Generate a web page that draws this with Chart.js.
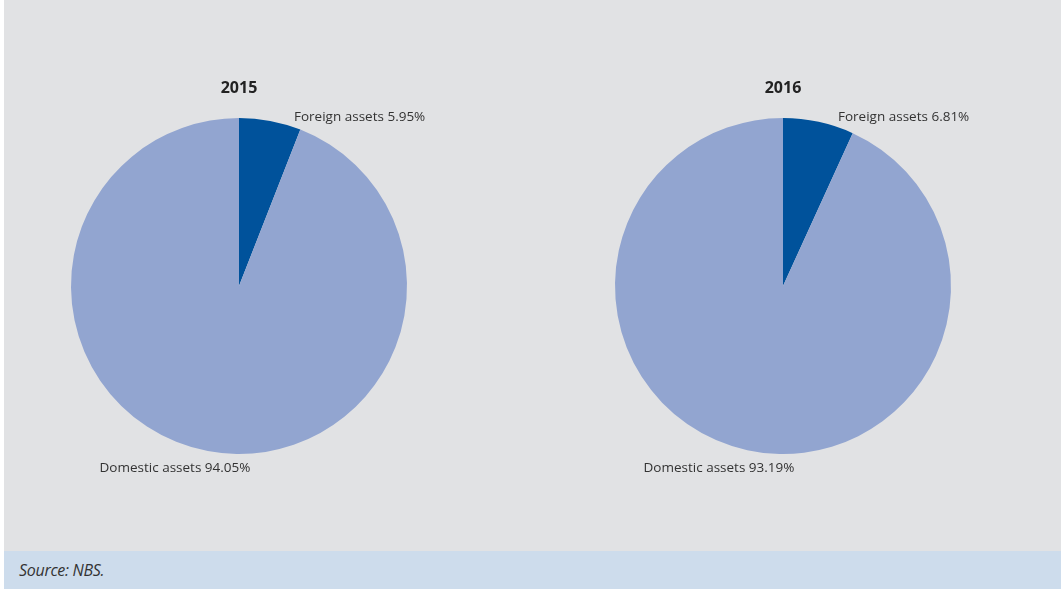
<!DOCTYPE html>
<html>
<head>
<meta charset="utf-8">
<script src="https://cdn.jsdelivr.net/npm/chart.js@4.4.1/dist/chart.umd.min.js"></script>
<style>
  html, body { margin: 0; padding: 0; background: #ffffff; }
  #wrap { position: relative; width: 1061px; height: 589px; overflow: hidden; }
  #panel { position: absolute; left: 4px; top: 0; width: 1057px; height: 551px; background: #e1e2e4; }
  #source { position: absolute; left: 4px; top: 551px; width: 1057px; height: 38px; background: #cddcec;
    font-family: "Open Sans", "Noto Sans", sans-serif; font-style: italic; font-size: 16px; color: #333;
    line-height: 38px; text-indent: 15px; letter-spacing: -0.3px; }
  canvas { position: absolute; top: 0; }
</style>
</head>
<body>
<div id="wrap">
  <div id="panel">
    <canvas id="pie2015" style="left:0px"></canvas>
    <canvas id="pie2016" style="left:530px"></canvas>
  </div>
  <div id="source">Source: NBS.</div>
</div>
<script>
const categories = ["Foreign assets", "Domestic assets"];
const years = ["2015", "2016"];
const values2015 = [5.95, 94.05];
const values2016 = [6.81, 93.19];

const colors = ["#00529b", "#92a5d0"];
const labelFont = '13.5px "Open Sans", "Noto Sans", sans-serif';

const pieLabels = {
  id: "pieLabels",
  afterDraw(chart) {
    const ctx = chart.ctx;
    const meta = chart.getDatasetMeta(0);
    const arc = meta.data[0];
    const r = arc.outerRadius;
    const vals = chart.data.datasets[0].data;
    ctx.save();
    ctx.fillStyle = "#222";
    ctx.font = 'bold 16px "Open Sans", "Noto Sans", sans-serif';
    ctx.textAlign = "center";
    ctx.textBaseline = "middle";
    ctx.fillText(chart.options.plugins.yearTitle, arc.x, arc.y - r - 30);

    ctx.font = labelFont;
    ctx.fillStyle = "#333";
    ctx.textAlign = "left";
    ctx.fillText(chart.data.labels[0] + " " + vals[0].toFixed(2) + "%", arc.x + 55, arc.y - r - 1);
    ctx.textAlign = "center";
    ctx.fillText(chart.data.labels[1] + " " + vals[1].toFixed(2) + "%", arc.x - 64, arc.y + r + 14);
    ctx.restore();
  }
};

function makePie(id, year, values, padLeft, padRight, w) {
  const canvas = document.getElementById(id);
  canvas.width = w;
  canvas.height = 551;
  canvas.style.width = w + "px";
  canvas.style.height = "551px";
  return new Chart(canvas.getContext("2d"), {
    type: "pie",
    data: {
      labels: categories,
      datasets: [{
        data: values,
        backgroundColor: colors,
        borderWidth: 0
      }]
    },
    options: {
      responsive: false,
      animation: false,
      layout: { padding: { left: padLeft, right: padRight, top: 118, bottom: 97 } },
      plugins: {
        legend: { display: false },
        tooltip: { enabled: false },
        yearTitle: year
      }
    },
    plugins: [pieLabels]
  });
}

makePie("pie2015", years[0], values2015, 67, 127, 530);
makePie("pie2016", years[1], values2016, 81, 110, 527);
</script>
</body>
</html>
